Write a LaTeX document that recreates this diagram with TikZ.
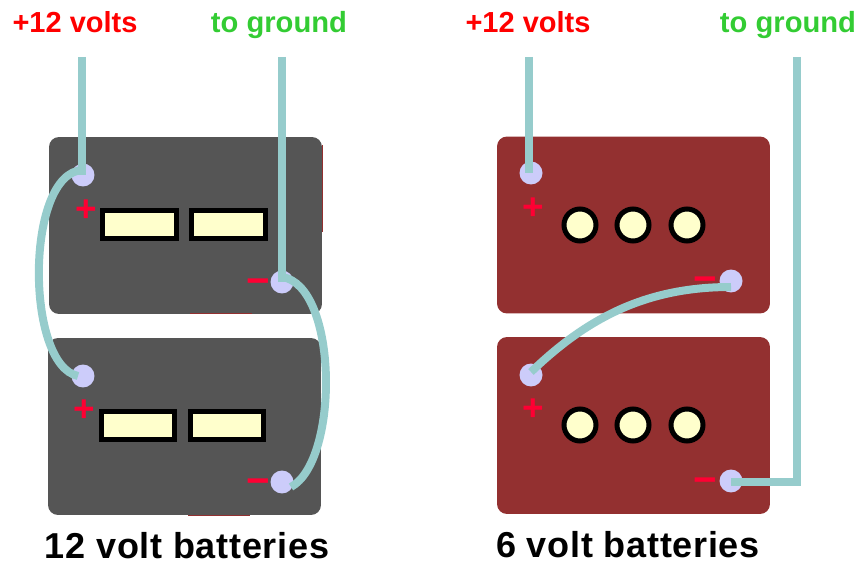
\documentclass[tikz,border=0pt]{standalone}
\usepackage{fontspec}
\setmainfont{Liberation Sans}
\usetikzlibrary{positioning}
\definecolor{BatGray}{HTML}{555555}
\definecolor{BatRed}{HTML}{933030}
\definecolor{WireTeal}{HTML}{96CCCC}
\definecolor{PostLilac}{HTML}{CCCCFA}
\definecolor{CellYellow}{HTML}{FFFFCC}
\definecolor{PlusRed}{HTML}{FF0033}
\definecolor{GroundGreen}{HTML}{33CC33}
\tikzset{
  battery/.style={rounded corners=0.2cm,minimum width=5.46cm,minimum height=3.54cm,inner sep=0pt},
  graybat/.style={battery,fill=BatGray},
  redbat/.style={battery,fill=BatRed},
  post/.style={circle,fill=PostLilac,minimum size=0.46cm,inner sep=0pt},
  cellbar/.style={draw=black,line width=0.1cm,fill=CellYellow,minimum width=1.48cm,minimum height=0.56cm,inner sep=0pt},
  cellcap/.style={circle,draw=black,line width=0.1cm,fill=CellYellow,minimum size=0.64cm,inner sep=0pt},
  wire/.style={line width=0.16cm,draw=WireTeal},
  rimline/.style={line width=0.02cm,draw=BatRed},
  hotlabel/.style={anchor=base,text=red,font=\fontsize{16.5}{18}\bfseries},
  gndlabel/.style={anchor=base,text=GroundGreen,font=\fontsize{16.6}{18}\bfseries},
  titlelabel/.style={anchor=base,inner sep=0pt,text=black,font=\fontsize{20.5}{22}\bfseries\addfontfeature{LetterSpace=2}},
  plusmark/.style={text=PlusRed,font=\fontsize{21}{22}\bfseries,inner sep=0pt},
  minusmark/.style={text=PlusRed,font=\fontsize{23}{24}\bfseries,inner sep=0pt}
}
\begin{document}
\begin{tikzpicture}[x=0.02cm,y=-0.02cm]
\useasboundingbox (0,0) rectangle (859,564);
% 12 volt pair
\node[graybat] (gtop) at (185.5,225.5) {};
\node[graybat] (gbot) at (184.5,426.5) {};
\draw[rimline] (322,145)--(322,232);
\draw[rimline] (190,314)--(252,314);
\draw[rimline] (188,515)--(250,515);
\node[cellbar] (ga) at (139.5,224.5) {};
\node[cellbar] (gb) at (228.5,224.5) {};
\node[cellbar] (gc) at (138,425.5) {};
\node[cellbar] (gd) at (227,425.5) {};
\node[plusmark] (gp1) at (86,211) {+};
\node[plusmark] (gp2) at (84,411) {+};
\node[minusmark] (gm1) at (258,287) {−};
\node[minusmark] (gm2) at (258,487) {−};
% 6 volt pair
\node[redbat] (rtop) at (633.5,225) {};
\node[redbat] (rbot) at (633.5,425.5) {};
\node[cellcap] (ra) at (580,225) {};
\node[cellcap] (rb) at (633,225) {};
\node[cellcap] (rc) at (687,225) {};
\node[cellcap] (rd) at (580,425) {};
\node[cellcap] (re) at (633,425) {};
\node[cellcap] (rf) at (687,425) {};
\node[plusmark] (rp1) at (533,209) {+};
\node[plusmark] (rp2) at (533,410) {+};
\node[minusmark] (rm1) at (705,285) {−};
\node[minusmark] (rm2) at (705,486) {−};
% posts
\node[post] (gtopplus) at (83,175) {};
\node[post] (gtopminus) at (282,282) {};
\node[post] (gbotplus) at (83,376) {};
\node[post] (gbotminus) at (282,482) {};
\node[post] (rtopplus) at (531,173) {};
\node[post] (rtopminus) at (731,281) {};
\node[post] (rbotplus) at (531,375) {};
\node[post] (rbotminus) at (731,481) {};
% labels
\node[hotlabel] (ghot) at (75,33) {+12 volts};
\node[gndlabel] (ggnd) at (279,33) {to ground};
\node[hotlabel] (rhot) at (528,33) {+12 volts};
\node[gndlabel] (rgnd) at (788,33) {to ground};
\node[titlelabel] (gtitle) at (187,558) {12 volt batteries};
\node[titlelabel] (rtitle) at (628,557) {6 volt batteries};
% wires
\coordinate (ghotend) at (82,57);
\coordinate (ggndend) at (282,57);
\coordinate (rhotend) at (529,57);
\coordinate (rgndend) at (797,57);
\coordinate (rgndbend) at (797,482);
\draw[wire] (ghotend)--(ghotend |- gtopplus);
\draw[wire] (ggndend)--(ggndend |- gtopminus);
\draw[wire] (rhotend)--(rhotend |- rtopplus);
\draw[wire,line join=miter] (rgndend)--(rgndbend)--(rgndbend -| rbotminus);
\draw[wire] ([yshift=0.1cm]gtopplus.center) .. controls (25,172) and (25,365) .. ([xshift=-0.1cm]gbotplus.center);
\draw[wire] ([yshift=0.1cm]gtopminus.center) .. controls (338,285) and (340,460) .. ([shift={(0.18cm,-0.1cm)}]gbotminus.center);
\draw[wire] ([yshift=0.06cm]rbotplus.center) .. controls (590,315) and (650,287) .. ([yshift=-0.12cm]rtopminus.center);
\end{tikzpicture}
\end{document}
